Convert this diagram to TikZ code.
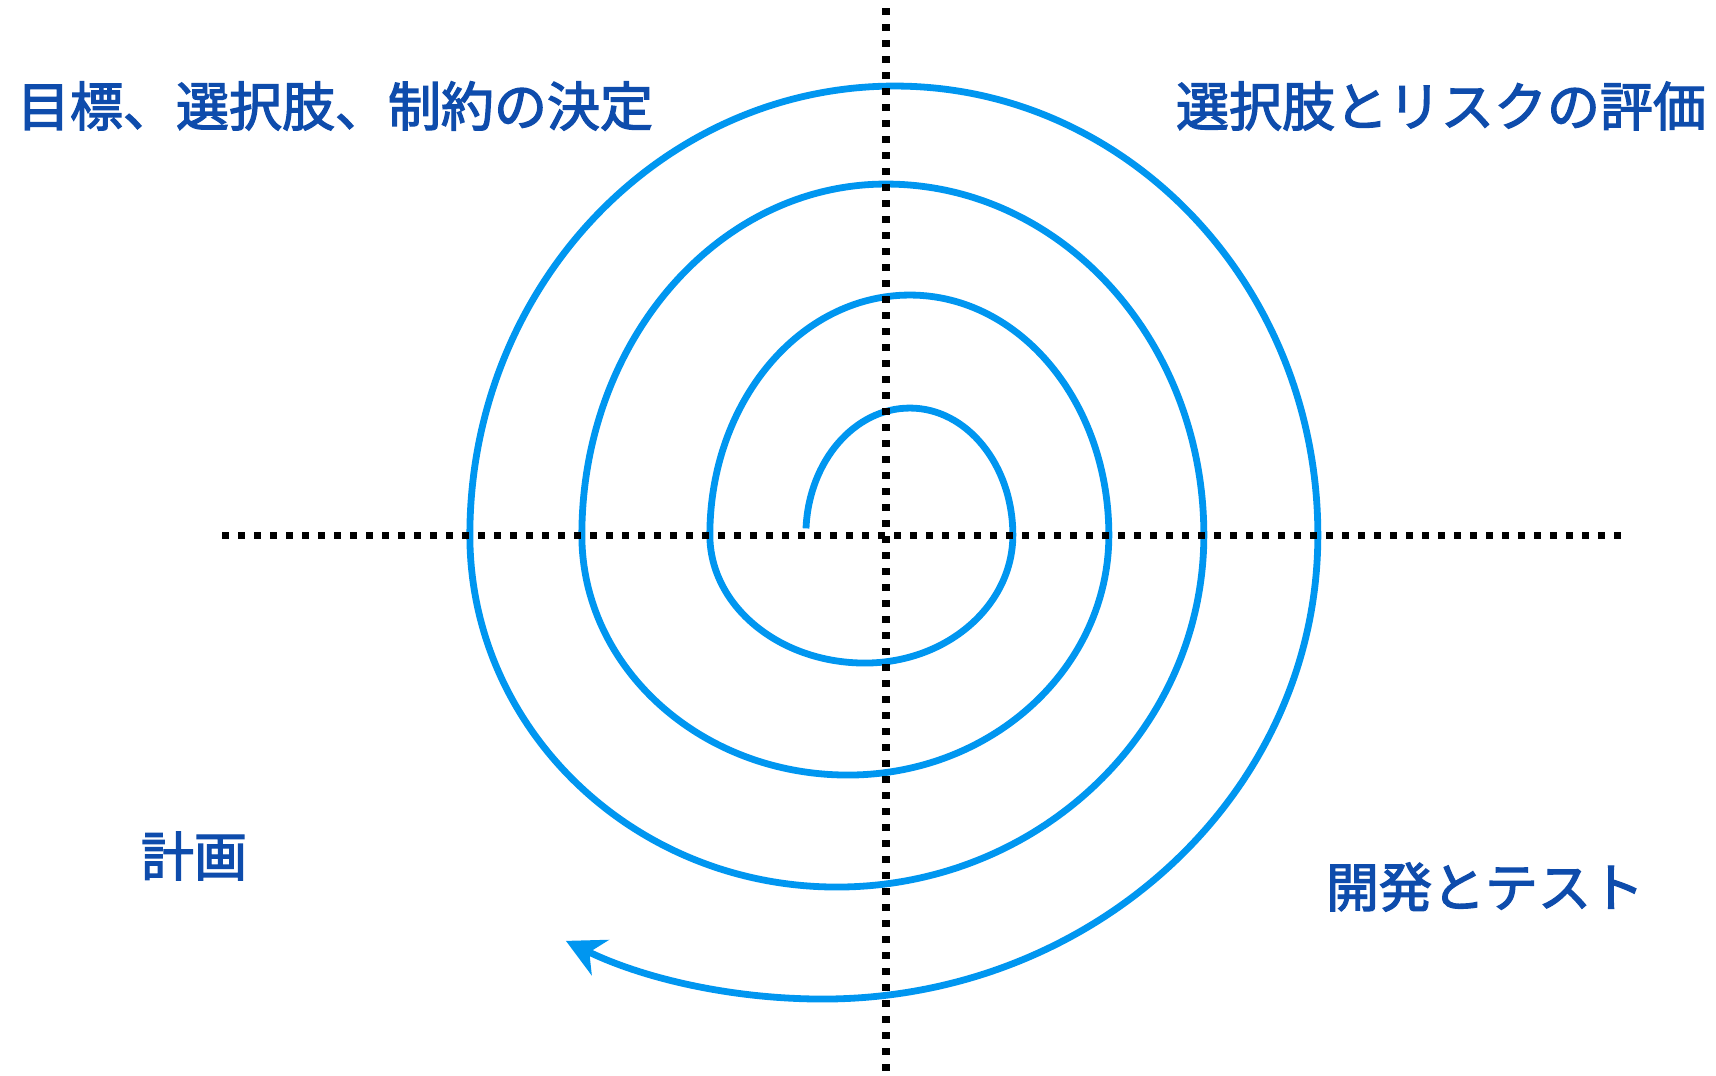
\documentclass[tikz,border=0pt]{standalone}
\usepackage{fontspec}
\setmainfont{Noto Sans CJK JP}
\newfontfamily\lblfont[FakeBold=2.5]{Noto Sans CJK JP}
\usetikzlibrary{arrows.meta}
\definecolor{spiralblue}{RGB}{0,150,240}
\definecolor{textblue}{RGB}{14,76,172}
\begin{document}
\begin{tikzpicture}[x=1pt,y=1pt,
  lbl/.style={font=\lblfont\fontsize{53}{60}\selectfont, text=textblue, inner sep=0pt, anchor=center},
  dotline/.style={line width=7.5pt, dash pattern=on 7pt off 9pt, black},
  spiral/.style={line width=6.8pt, draw=spiralblue, line join=round,
    -{Stealth[length=38pt,width=39pt,inset=12pt,fill=spiralblue]}}]
\useasboundingbox (0,0) rectangle (1716,-1076);
\fill[white] (0,0) rectangle (1716,-1076);

% spiral
\draw[spiral] (806,-528.4)
  arc[start angle=177, end angle=90, x radius=104, y radius=127]
  arc[start angle=90, end angle=0, x radius=103, y radius=127]
  arc[start angle=0, end angle=-90, x radius=148, y radius=128]
  arc[start angle=-90, end angle=-180, x radius=155, y radius=128]
  arc[start angle=180, end angle=90, x radius=200, y radius=240]
  arc[start angle=90, end angle=0, x radius=199, y radius=240]
  arc[start angle=0, end angle=-90, x radius=261, y radius=240]
  arc[start angle=-90, end angle=-180, x radius=266, y radius=240]
  arc[start angle=180, end angle=90, x radius=304, y radius=351]
  arc[start angle=90, end angle=0, x radius=318, y radius=351]
  arc[start angle=0, end angle=-90, x radius=367, y radius=352]
  arc[start angle=-90, end angle=-180, x radius=367, y radius=352]
  arc[start angle=180, end angle=90, x radius=425, y radius=449]
  arc[start angle=90, end angle=0, x radius=423, y radius=449]
  arc[start angle=0, end angle=-90, x radius=495, y radius=464]
  arc[start angle=-90, end angle=-119, x radius=530, y radius=464];

% axes
\coordinate (hL) at (222,-535.5);
\coordinate (hR) at (1629,-535.5);
\coordinate (vT) at (886,-8);
\coordinate (vB) at (886,-1079);
\draw[dotline] (hL) -- (hR);
\draw[dotline] (vT) -- (vB);

% labels
\node[lbl] (tl) at (335,-106) {目標、選択肢、制約の決定};
\node[lbl] (tr) at (1441,-106) {選択肢とリスクの評価};
\node[lbl] (bl) at (194,-856) {計画};
\node[lbl] (br) at (1485,-887) {開発とテスト};
\end{tikzpicture}
\end{document}
